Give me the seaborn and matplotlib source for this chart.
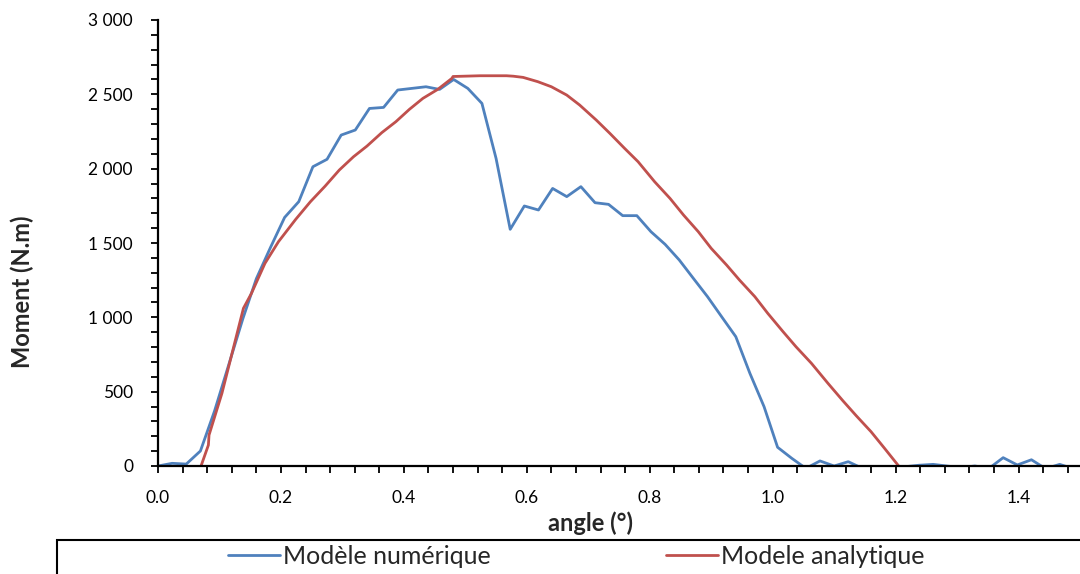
import matplotlib
matplotlib.use("Agg")
import matplotlib.pyplot as plt
import matplotlib.ticker as mticker
from matplotlib.patches import Rectangle
import seaborn as sns

# numerical model (blue)
num_angle = [0.000, 0.023, 0.046, 0.069, 0.092, 0.115, 0.138, 0.160, 0.183, 0.206,
             0.229, 0.252, 0.275, 0.298, 0.321, 0.344, 0.367, 0.390, 0.413, 0.436,
             0.458, 0.481, 0.504, 0.527, 0.550, 0.573, 0.596, 0.619, 0.642, 0.665,
             0.688, 0.711, 0.733, 0.756, 0.779, 0.802, 0.825, 0.848, 0.871, 0.894,
             0.917, 0.940, 0.963, 0.986, 1.008, 1.031, 1.054, 1.077, 1.100, 1.123,
             1.146, 1.169, 1.192, 1.215, 1.238, 1.261, 1.283, 1.306, 1.329, 1.352,
             1.375, 1.398, 1.421, 1.444, 1.467, 1.490]
num_moment = [0, 18, 13, 101, 370, 680, 990, 1260, 1470, 1672,
              1778, 2013, 2063, 2226, 2260, 2405, 2412, 2529, 2540, 2551,
              2533, 2600, 2540, 2439, 2069, 1592, 1749, 1722, 1867, 1812,
              1879, 1771, 1760, 1684, 1684, 1576, 1491, 1386, 1262, 1139,
              1004, 870, 623, 399, 126, 52, -16, 34, 0, 29,
              -16, -16, -12, -5, 5, 11, 0, -11, 0, -16,
              56, 7, 42, -18, 11, -20]

# analytical model (red)
ana_angle = [0.070, 0.082, 0.083, 0.104, 0.139, 0.152, 0.174, 0.196, 0.224, 0.248,
             0.272, 0.295, 0.318, 0.340, 0.364, 0.387, 0.409, 0.431, 0.455, 0.478,
             0.480, 0.524, 0.567, 0.578, 0.594, 0.618, 0.640, 0.665, 0.686, 0.713,
             0.735, 0.759, 0.781, 0.808, 0.833, 0.855, 0.879, 0.900, 0.925, 0.946,
             0.971, 0.992, 1.017, 1.038, 1.063, 1.090, 1.114, 1.136, 1.160, 1.182,
             1.205]
ana_moment = [0, 141, 208, 489, 1061, 1161, 1363, 1509, 1659, 1778,
              1883, 1991, 2080, 2152, 2242, 2316, 2399, 2473, 2533, 2607,
              2620, 2625, 2625, 2622, 2614, 2585, 2551, 2495, 2428, 2327,
              2238, 2137, 2047, 1912, 1800, 1688, 1576, 1464, 1352, 1251,
              1139, 1027, 903, 802, 691, 556, 440, 338, 231, 119,
              0]

sns.set_style("white")
plt.rcParams['font.family'] = ['Lato', 'DejaVu Sans']

fig = plt.figure(figsize=(10.8, 5.74), dpi=100)
ax = fig.add_axes([158 / 1080, 108 / 574, 922 / 1080, 446 / 574])

sns.lineplot(x=num_angle, y=num_moment, ax=ax, color='#4F81BD', linewidth=2.0,
             sort=False, label='Modèle numérique')
sns.lineplot(x=ana_angle, y=ana_moment, ax=ax, color='#C0504D', linewidth=2.0,
             sort=False, label='Modele analytique')

ax.set_xlim(0, 1.5)
ax.set_ylim(0, 3000)
ax.xaxis.set_major_locator(mticker.MultipleLocator(0.2))
ax.xaxis.set_minor_locator(mticker.MultipleLocator(0.04))
ax.yaxis.set_major_locator(mticker.MultipleLocator(500))
ax.yaxis.set_minor_locator(mticker.MultipleLocator(100))
ax.xaxis.set_major_formatter(mticker.FormatStrFormatter('%.1f'))
ax.yaxis.set_major_formatter(mticker.FuncFormatter(lambda v, p: f"{int(v):,}".replace(",", " ")))

ax.tick_params(axis='both', which='both', direction='out', length=5, width=1.3,
               color='black', labelsize=12.5, labelcolor='black')
ax.tick_params(axis='x', which='both', bottom=True, pad=12)
ax.tick_params(axis='y', which='both', left=True, pad=13)

for side in ['top', 'right']:
    ax.spines[side].set_visible(False)
for side in ['left', 'bottom']:
    ax.spines[side].set_color('black')
    ax.spines[side].set_linewidth(1.6)
ax.grid(False)

ax.set_xlabel('angle (°)', fontsize=17, fontweight='bold', va='center')
ax.xaxis.set_label_coords((590 - 158) / 922, (466 - 523) / 446)
ax.set_ylabel('Moment (N.m)', fontsize=17, fontweight='bold', va='center')
ax.yaxis.set_label_coords((22 - 158) / 922, (466 - 292) / 446)

# legend box along the bottom
box = Rectangle((57 / 1080, -0.05), 1.1, (574 - 540) / 574 + 0.05, transform=fig.transFigure,
                fill=False, edgecolor='black', linewidth=1.5, clip_on=False)
fig.patches.append(box)
handles, labels = ax.get_legend_handles_labels()
ax.legend_.remove()
fig.legend(handles, labels, loc='center', bbox_to_anchor=(576 / 1080, (574 - 556) / 574),
           ncol=2, frameon=False, fontsize=18, handlelength=2.1, handletextpad=0.1,
           columnspacing=7.0, borderpad=0)

fig.savefig('out.png', dpi=100, facecolor='white')
